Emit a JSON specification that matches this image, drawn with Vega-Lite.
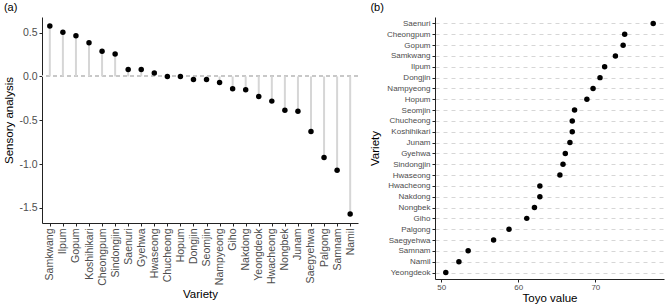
{
  "$schema": "https://vega.github.io/schema/vega-lite/v6.json",
  "padding": {"left": 3, "top": 2, "right": 2, "bottom": 1},
  "spacing": 10,
  "config": {
    "view": {"stroke": null},
    "font": "Liberation Sans",
    "axis": {
      "domainColor": "#222222",
      "tickColor": "#222222",
      "labelColor": "#4d4d4d",
      "titleColor": "#000000",
      "titleFontWeight": "normal",
      "tickSize": 3,
      "labelPadding": 2,
      "domainWidth": 1
    },
    "title": {"fontWeight": "normal", "color": "#000000"}
  },
  "datasets": {
    "sensory": [
      {"Variety": "Samkwang", "value": 0.575},
      {"Variety": "Ilpum", "value": 0.503},
      {"Variety": "Gopum", "value": 0.464},
      {"Variety": "Koshihikari", "value": 0.384},
      {"Variety": "Cheongpum", "value": 0.286},
      {"Variety": "Sindongjin", "value": 0.255},
      {"Variety": "Saenuri", "value": 0.08},
      {"Variety": "Gyehwa", "value": 0.08},
      {"Variety": "Hwaseong", "value": 0.038},
      {"Variety": "Chucheong", "value": 0.0},
      {"Variety": "Hopum", "value": 0.0},
      {"Variety": "Dongjin", "value": -0.034},
      {"Variety": "Seomjin", "value": -0.034},
      {"Variety": "Nampyeong", "value": -0.069},
      {"Variety": "Giho", "value": -0.141},
      {"Variety": "Nakdong", "value": -0.153},
      {"Variety": "Yeongdeok", "value": -0.229},
      {"Variety": "Hwacheong", "value": -0.282},
      {"Variety": "Nongbek", "value": -0.385},
      {"Variety": "Junam", "value": -0.397},
      {"Variety": "Saegyehwa", "value": -0.629},
      {"Variety": "Palgong", "value": -0.926},
      {"Variety": "Samnam", "value": -1.071},
      {"Variety": "Namil", "value": -1.57}
    ],
    "toyo": [
      {"Variety": "Saenuri", "toyo": 77.5},
      {"Variety": "Cheongpum", "toyo": 73.8},
      {"Variety": "Gopum", "toyo": 73.6},
      {"Variety": "Samkwang", "toyo": 72.6},
      {"Variety": "Ilpum", "toyo": 71.2},
      {"Variety": "Dongjin", "toyo": 70.6},
      {"Variety": "Nampyeong", "toyo": 69.7},
      {"Variety": "Hopum", "toyo": 68.9},
      {"Variety": "Seomjin", "toyo": 67.3},
      {"Variety": "Chucheong", "toyo": 67.0},
      {"Variety": "Koshihikari", "toyo": 67.0},
      {"Variety": "Junam", "toyo": 66.7},
      {"Variety": "Gyehwa", "toyo": 66.1},
      {"Variety": "Sindongjin", "toyo": 65.8},
      {"Variety": "Hwaseong", "toyo": 65.4},
      {"Variety": "Hwacheong", "toyo": 62.8},
      {"Variety": "Nakdong", "toyo": 62.8},
      {"Variety": "Nongbek", "toyo": 62.1},
      {"Variety": "Giho", "toyo": 61.1},
      {"Variety": "Palgong", "toyo": 58.8},
      {"Variety": "Saegyehwa", "toyo": 56.8},
      {"Variety": "Samnam", "toyo": 53.5},
      {"Variety": "Namil", "toyo": 52.3},
      {"Variety": "Yeongdeok", "toyo": 50.6}
    ]
  },
  "hconcat": [
    {
      "width": 316,
      "height": 206,
      "title": {"text": "(a)", "anchor": "start", "frame": "bounds", "fontSize": 11, "offset": 4},
      "data": {"name": "sensory"},
      "encoding": {
        "x": {
          "field": "Variety", "type": "nominal",
          "sort": ["Samkwang","Ilpum","Gopum","Koshihikari","Cheongpum","Sindongjin","Saenuri","Gyehwa","Hwaseong","Chucheong","Hopum","Dongjin","Seomjin","Nampyeong","Giho","Nakdong","Yeongdeok","Hwacheong","Nongbek","Junam","Saegyehwa","Palgong","Samnam","Namil"],
          "scale": {"type": "point", "padding": 0.6},
          "axis": {"title": "Variety", "labelAngle": 270, "labelFontSize": 10.5, "titleFontSize": 11.5, "titlePadding": 3}
        }
      },
      "layer": [
        {
          "mark": {"type": "rule", "color": "#c8c8c8", "strokeDash": [4, 3], "strokeWidth": 1},
          "encoding": {"x": null, "y": {"datum": 0, "type": "quantitative"}}
        },
        {
          "mark": {"type": "rule", "color": "#d6d6d6", "strokeWidth": 2},
          "encoding": {
            "y": {"field": "value", "type": "quantitative"},
            "y2": {"datum": 0}
          }
        },
        {
          "mark": {"type": "circle", "color": "#000000", "opacity": 1, "size": 30},
          "encoding": {
            "y": {
              "field": "value", "type": "quantitative",
              "scale": {"domain": [-1.673, 0.678], "nice": false, "zero": false},
              "axis": {
                "title": "Sensory analysis", "values": [-1.5, -1, -0.5, 0, 0.5], "format": ".1f",
                "labelExpr": "replace(datum.label, '\u2212', '-')",
                "grid": false, "labelFontSize": 10.5, "titleFontSize": 11.5, "titlePadding": 4
              }
            }
          }
        }
      ]
    },
    {
      "width": 229,
      "height": 262,
      "title": {"text": "(b)", "anchor": "start", "frame": "bounds", "fontSize": 11, "offset": 4, "dx": 1},
      "data": {"name": "toyo"},
      "mark": {"type": "circle", "color": "#000000", "opacity": 1, "size": 30},
      "encoding": {
        "y": {
          "field": "Variety", "type": "nominal",
          "sort": ["Saenuri","Cheongpum","Gopum","Samkwang","Ilpum","Dongjin","Nampyeong","Hopum","Seomjin","Chucheong","Koshihikari","Junam","Gyehwa","Sindongjin","Hwaseong","Hwacheong","Nakdong","Nongbek","Giho","Palgong","Saegyehwa","Samnam","Namil","Yeongdeok"],
          "scale": {"type": "point", "padding": 0.6},
          "axis": {
            "title": "Variety", "labelFontSize": 8, "titleFontSize": 11.5, "titlePadding": 6,
            "grid": true, "gridColor": "#cccccc", "gridDash": [4, 4], "gridWidth": 0.8
          }
        },
        "x": {
          "field": "toyo", "type": "quantitative",
          "scale": {"domain": [49.2, 78.9], "nice": false, "zero": false},
          "axis": {"title": "Toyo value", "values": [50, 60, 70], "grid": false, "labelFontSize": 8, "labelPadding": 1, "titleFontSize": 11.5, "titlePadding": 1}
        }
      }
    }
  ]
}
